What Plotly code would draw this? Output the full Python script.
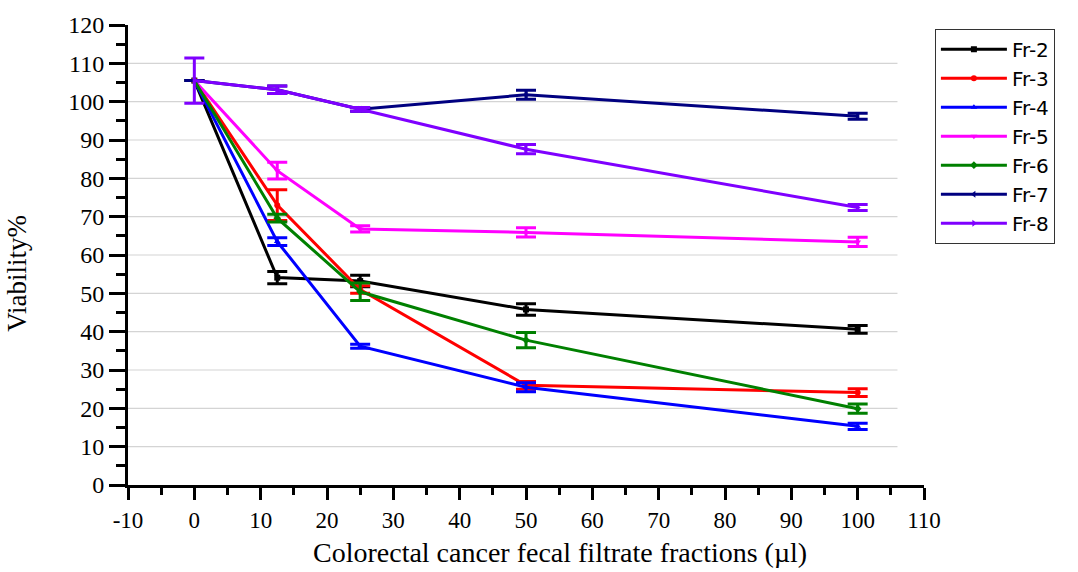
import plotly.graph_objects as go

# Fraction volumes (µl)
doses = [0, 12.5, 25, 50, 100]

# Mean viability (%) per fraction
fr2 = [105.5, 54.1, 53.2, 45.8, 40.6]
fr3 = [105.5, 73.0, 51.0, 26.0, 24.1]
fr4 = [105.5, 63.5, 36.2, 25.5, 15.3]
fr5 = [105.5, 82.0, 66.8, 65.9, 63.4]
fr6 = [105.5, 69.6, 50.4, 37.8, 19.9]
fr7 = [105.5, 103.1, 98.0, 101.8, 96.2]
fr8 = [105.5, 103.1, 98.0, 87.6, 72.4]

# Standard deviations
sd2 = [0, 1.6, 1.5, 1.5, 1.0]
sd3 = [0, 4.0, 1.0, 1.0, 1.0]
sd4 = [0, 1.0, 0.5, 1.2, 0.8]
sd5 = [0, 2.2, 0.8, 1.2, 1.2]
sd6 = [0, 1.0, 2.3, 2.0, 1.2]
sd7 = [0, 1.0, 0.5, 1.2, 0.8]
sd8 = [5.9, 1.0, 0.5, 1.2, 0.8]

names = ["Fr-2", "Fr-3", "Fr-4", "Fr-5", "Fr-6", "Fr-7", "Fr-8"]
colors = ["#000000", "#ff0000", "#0000ff", "#ff00ff", "#008000", "#000080", "#7f00ff"]
symbols = ["square", "circle", "triangle-up", "triangle-down", "diamond",
           "triangle-left", "triangle-right"]
means = [fr2, fr3, fr4, fr5, fr6, fr7, fr8]
sds = [sd2, sd3, sd4, sd5, sd6, sd7, sd8]

x_ticks = list(range(-10, 111, 10))
y_ticks = list(range(0, 121, 10))

fig = go.Figure()

for name, col, sym, m, s in zip(names, colors, symbols, means, sds):
    fig.add_trace(go.Scatter(
        x=doses, y=m, name=name, mode="lines+markers",
        line=dict(color=col, width=3),
        marker=dict(symbol=sym, size=6, color=col),
        error_y=dict(type="data", array=s, visible=True, color=col,
                     thickness=3, width=10),
    ))

# light horizontal grid
shapes = []
for v in y_ticks[1:-1]:
    shapes.append(dict(type="line", xref="x", yref="y", x0=-10, x1=106,
                       y0=v, y1=v, layer="below",
                       line=dict(color="#d4d4d4", width=1.2)))

serif = "Liberation Serif"

fig.update_layout(
    width=1078, height=572,
    margin=dict(l=128, r=154, t=21, b=87),
    paper_bgcolor="white", plot_bgcolor="white",
    shapes=shapes,
    showlegend=True,
    legend=dict(
        x=1.0137, y=0.992, xanchor="left", yanchor="top",
        bordercolor="#333333", borderwidth=1,
        font=dict(family="DejaVu Sans", size=20, color="black"),
        itemwidth=66, tracegroupgap=0,
    ),
    xaxis=dict(
        range=[-10, 110], tickvals=x_ticks, ticktext=[str(t) for t in x_ticks],
        showgrid=False, zeroline=False,
        showline=True, linecolor="black", linewidth=3,
        ticks="outside", ticklen=12, tickwidth=3, tickcolor="black",
        minor=dict(dtick=5, tick0=-10, ticks="outside", ticklen=7,
                   tickwidth=3, tickcolor="black", showgrid=False),
        tickfont=dict(family=serif, size=23, color="black"),
    ),
    yaxis=dict(
        range=[0, 120], tickvals=y_ticks, ticktext=[str(t) for t in y_ticks],
        showgrid=False, zeroline=False,
        showline=True, linecolor="black", linewidth=3,
        ticks="outside", ticklen=16, tickwidth=3, tickcolor="black",
        minor=dict(dtick=5, tick0=0, ticks="outside", ticklen=9,
                   tickwidth=3, tickcolor="black", showgrid=False),
        tickfont=dict(family=serif, size=24, color="black"),
    ),
    annotations=[
        dict(text="Colorectal cancer fecal filtrate fractions (µl)",
             xref="paper", yref="paper", x=(560 - 128) / 796, y=-(553 - 485) / 464,
             xanchor="center", yanchor="middle", showarrow=False,
             font=dict(family=serif, size=28, color="black")),
        dict(text="Viability%", textangle=-90,
             xref="paper", yref="paper", x=(17 - 128) / 796, y=(485 - 272) / 464,
             xanchor="center", yanchor="middle", showarrow=False,
             font=dict(family=serif, size=27, color="black")),
    ],
)

fig.write_html("out.html")
